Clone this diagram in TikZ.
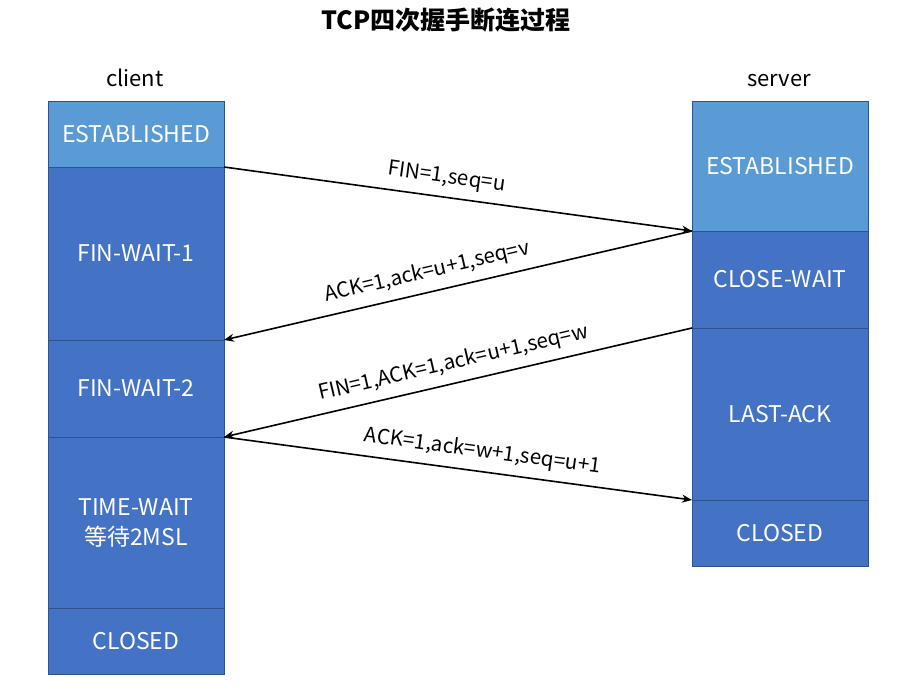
\documentclass[tikz,border=0pt]{standalone}
\usepackage{fontspec}
\setmainfont{Noto Sans CJK SC}
\usetikzlibrary{arrows.meta,positioning}
\definecolor{estblue}{HTML}{5B9BD5}
\definecolor{stblue}{HTML}{4472C4}
\definecolor{edgeblue}{HTML}{2F528F}
\tikzset{
	state/.style={
			draw=edgeblue, line width=0.4pt, fill=stblue, text=white,
			minimum width=88pt, inner sep=0pt, outer sep=0pt, align=center,
			font=\fontsize{11.5}{15}\selectfont
		},
	msg/.style={-{Stealth[length=5pt,width=4pt]}, line width=0.8pt},
	msglabel/.style={sloped, above=1pt, font=\fontsize{10.3}{12}\selectfont},
	side/.style={anchor=base, font=\fontsize{11}{13}\selectfont}
}
\begin{document}
\begin{tikzpicture}[x=0.5pt, y=-0.5pt, node distance=0pt]
			\useasboundingbox (0,0) rectangle (907,691);

			% Title and sides
			\node[font=\fontsize{12.5}{15}\selectfont\bfseries] (title) at (446,20) {TCP四次握手断连过程};
			\node[side] (client) at (135,86) {client};
			\node[side] (server) at (779,86) {server};

			% Client states
			\node[state, fill=estblue, minimum height=33pt, anchor=north west] (cEst) at (48,101) {ESTABLISHED};
			\node[state, minimum height=86.5pt, below=of cEst] (cFw1) {FIN-WAIT-1};
			\node[state, minimum height=48.5pt, below=of cFw1] (cFw2) {FIN-WAIT-2};
			\node[state, minimum height=85.5pt, below=of cFw2] (cTw) {TIME-WAIT\\等待2MSL};
			\node[state, minimum height=33pt, below=of cTw] (cClosed) {CLOSED};

			% Server states
			\node[state, fill=estblue, minimum height=65pt, anchor=north west] (sEst) at (692,101) {ESTABLISHED};
			\node[state, minimum height=48.5pt, below=of sEst] (sCw) {CLOSE-WAIT};
			\node[state, minimum height=86pt, below=of sCw] (sLa) {LAST-ACK};
			\node[state, minimum height=33pt, below=of sLa] (sClosed) {CLOSED};

			% Messages
			\draw[msg] (cEst.south east) -- node[msglabel, pos=0.47] {FIN=1,seq=u} (sEst.south west);
			\draw[msg] (sEst.south west) -- node[msglabel, pos=0.556] {ACK=1,ack=u+1,seq=v} (cFw1.south east);
			\draw[msg] (sCw.south west) -- node[msglabel, pos=0.5] {FIN=1,ACK=1,ack=u+1,seq=w} (cFw2.south east);
			\draw[msg] (cFw2.south east) -- node[msglabel, pos=0.547] {ACK=1,ack=w+1,seq=u+1} (sLa.south west);
		\end{tikzpicture}
\end{document}
